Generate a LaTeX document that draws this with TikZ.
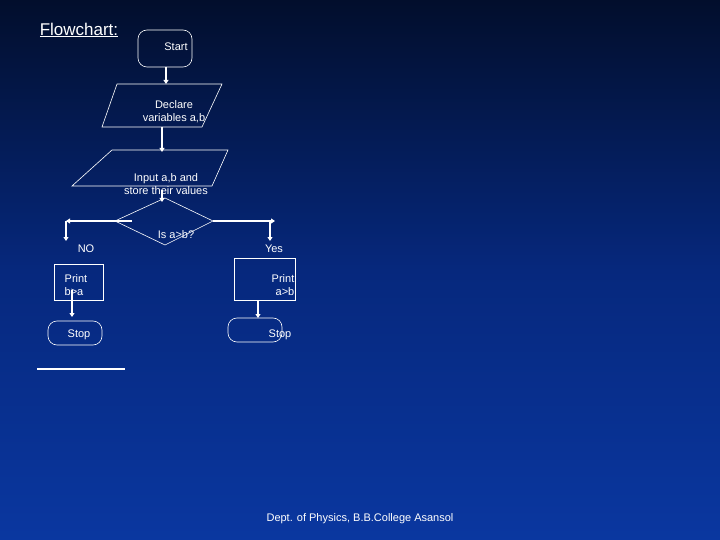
\documentclass[tikz,border=0pt]{standalone}
\usepackage{fontspec}
\setmainfont{Liberation Sans}
\usetikzlibrary{arrows.meta,shapes.geometric}
\begin{document}
\begin{tikzpicture}[x=1pt,y=-1pt,
  ln/.style={draw=white,line width=0.6pt},
  ar/.style={draw=white,line width=1.4pt,-{Triangle[length=4pt,width=5pt]}},
  tx/.style={text=white,font=\fontsize{11}{13}\selectfont,align=center,inner sep=0}]
\shade[top color={rgb,255:red,2;green,14;blue,44},bottom color={rgb,255:red,10;green,55;blue,160},middle color={rgb,255:red,6;green,40;blue,125}] (0,0) rectangle (720,540);
\useasboundingbox (0,0) rectangle (720,540);
% title
\node[tx,font=\fontsize{17}{19}\selectfont] (title) at (79,30) {\underline{Flowchart:}};
% start
\draw[ln,rounded corners=9pt] (138,30) rectangle (192,67);
\node[tx] (start) at (176,47) {Start};
\coordinate (s1) at (166,67); \coordinate (s2) at (166,84);
\draw[ar] (s1) -- (s2);
% declare
\draw[ln] (117,84) -- (222,84) -- (202,127) -- (102,127) -- cycle;
\node[tx] (decl) at (174,112) {Declare\\variables a,b};
\coordinate (d1) at (162,127); \coordinate (d2) at (162,152);
\draw[ar] (d1) -- (d2);
% input
\draw[ln] (112,150) -- (228,150) -- (212,186) -- (72,186) -- cycle;
\node[tx] (inp) at (166,184) {Input a,b and\\store their values};
\coordinate (i1) at (162,190); \coordinate (i2) at (162,202);
\draw[ar] (i1) -- (i2);
% diamond
\draw[ln] (165,198) -- (213,221) -- (165,245) -- (115,221) -- cycle;
\node[tx] (dec) at (176,235) {Is a>b?};
\coordinate (l0) at (132,221); \coordinate (l1) at (66,221); \coordinate (l2) at (66,241);
\coordinate (r0) at (213,221); \coordinate (r1) at (275,221); \coordinate (r2) at (270,222); \coordinate (r3) at (270,241);
\draw[ar] (l0) -- (l1);
\draw[ar] (l1) -- (l2);
\draw[ar] (r0) -- (r1);
\draw[ar] (r2) -- (r3);
\node[tx] (no) at (86,249) {NO};
\node[tx] (yes) at (274,249) {Yes};
% print boxes
\draw[ln] (54,264) rectangle (103,300);
\node[tx,align=left] (pb) at (76,285) {Print\\b>a};
\draw[ln] (234,258) rectangle (295,300);
\node[tx,align=right] (pa) at (283,285) {Print\\a>b};
\coordinate (p1) at (72,290); \coordinate (p2) at (72,317);
\draw[ar] (p1) -- (p2);
\coordinate (q1) at (258,300); \coordinate (q2) at (258,318);
\draw[ar] (q1) -- (q2);
% stops
\draw[ln,rounded corners=9pt] (48,321) rectangle (102,345);
\node[tx] (stop1) at (79,335) {Stop};
\draw[ln,rounded corners=9pt] (228,318) rectangle (282,342);
\node[tx] (stop2) at (280,335) {Stop};
\draw[white,line width=1.2pt] (37,369) -- (125,369);
\node[tx,font=\fontsize{11}{13}\selectfont] (foot) at (360,519) {Dept. of Physics, B.B.College Asansol};
\end{tikzpicture}
\end{document}
